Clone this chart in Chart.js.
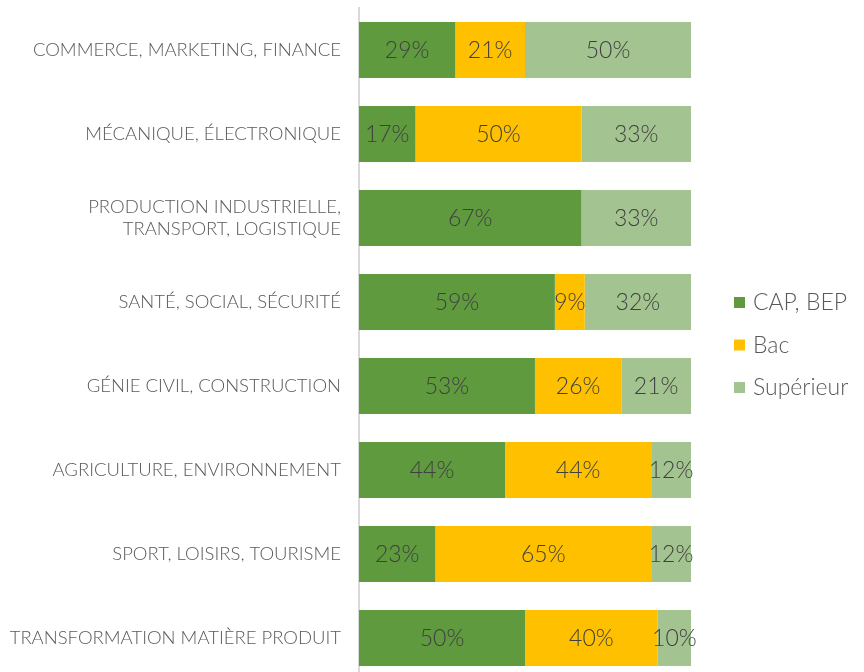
<!DOCTYPE html>
<html>
<head>
<meta charset="utf-8">
<script src="https://cdn.jsdelivr.net/npm/chart.js@4"></script>
<style>
  html, body { margin: 0; padding: 0; background: #fff; overflow: hidden; }
</style>
</head>
<body>
<canvas id="chart" width="864" height="680"></canvas>
<script>
const categories = [
  'COMMERCE, MARKETING, FINANCE',
  'MÉCANIQUE, ÉLECTRONIQUE',
  ['PRODUCTION INDUSTRIELLE,', 'TRANSPORT, LOGISTIQUE'],
  'SANTÉ, SOCIAL, SÉCURITÉ',
  'GÉNIE CIVIL, CONSTRUCTION',
  'AGRICULTURE, ENVIRONNEMENT',
  'SPORT, LOISIRS, TOURISME',
  'TRANSFORMATION MATIÈRE PRODUIT'
];
const seriesNames = ['CAP, BEP', 'Bac', 'Supérieur'];
const capBep = [29, 17, 67, 59, 53, 44, 23, 50];
const bac = [21, 50, 0, 9, 26, 44, 65, 40];
const superieur = [50, 33, 33, 32, 21, 12, 12, 10];
const colors = ['#5f9a3f', '#ffc000', '#a3c490'];

const FONT = 'Lato, "Open Sans", sans-serif';

// percentages in the middle of each segment
const valueLabels = {
  id: 'valueLabels',
  afterDatasetsDraw(chart) {
    const ctx = chart.ctx;
    ctx.save();
    ctx.font = '300 23px ' + FONT;
    ctx.fillStyle = '#404040';
    ctx.textAlign = 'center';
    ctx.textBaseline = 'middle';
    chart.data.datasets.forEach((ds, i) => {
      chart.getDatasetMeta(i).data.forEach((bar, j) => {
        const v = ds.data[j];
        if (!v) return;
        ctx.fillText(v + '%', (bar.x + bar.base) / 2, bar.y + 1);
      });
    });
    ctx.restore();
  }
};

// legend on the right, drawn by hand
const sideLegend = {
  id: 'sideLegend',
  afterDraw(chart) {
    const ctx = chart.ctx;
    ctx.save();
    ctx.font = '300 23px ' + FONT;
    ctx.textBaseline = 'middle';
    chart.data.datasets.forEach((ds, i) => {
      const y = 302 + i * 42.5;
      ctx.fillStyle = ds.backgroundColor;
      ctx.fillRect(734, y - 5, 11, 11);
      ctx.fillStyle = '#595959';
      ctx.fillText(ds.label, 753, y + 1);
    });
    ctx.restore();
  }
};

new Chart(document.getElementById('chart'), {
  type: 'bar',
  data: {
    labels: categories,
    datasets: [
      { label: seriesNames[0], data: capBep, backgroundColor: colors[0] },
      { label: seriesNames[1], data: bac, backgroundColor: colors[1] },
      { label: seriesNames[2], data: superieur, backgroundColor: colors[2] }
    ]
  },
  options: {
    indexAxis: 'y',
    responsive: false,
    animation: false,
    categoryPercentage: 1,
    barPercentage: 0.667,
    layout: { padding: { top: 8, right: 173, bottom: 0, left: 0 } },
    plugins: { legend: { display: false }, tooltip: { enabled: false } },
    scales: {
      x: { stacked: true, min: 0, max: 100, display: false },
      y: {
        stacked: true,
        afterFit: s => {
          s.width = 359;
          s.paddingTop = 0;
          s.paddingBottom = 0;
        },
        grid: { display: false, drawTicks: false },
        border: { display: true, color: '#d9d9d9', width: 2 },
        ticks: { color: '#595959', padding: 18, font: { family: FONT, size: 18.5, weight: 300 } }
      }
    }
  },
  plugins: [valueLabels, sideLegend]
});
</script>
</body>
</html>
